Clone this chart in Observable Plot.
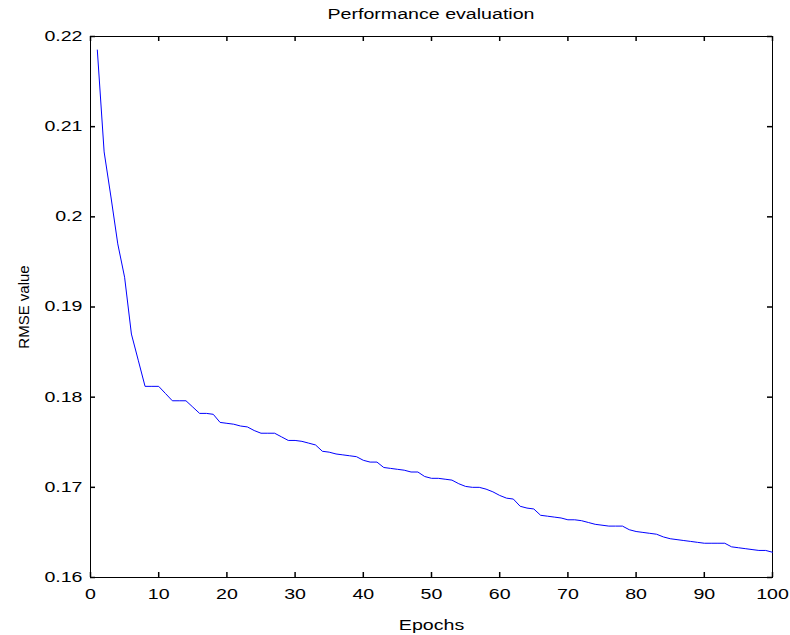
<!DOCTYPE html>
<html><head><meta charset="utf-8">
<script src="https://cdn.jsdelivr.net/npm/d3@7"></script>
<script src="https://cdn.jsdelivr.net/npm/@observablehq/plot@0.6"></script>
<style>
body{margin:0;background:#fff;font-family:"Liberation Sans",Arial,sans-serif;}
#title{height:28px;position:relative;width:790px;}
#title span{position:absolute;left:431px;top:6px;transform:translateX(-50%) scaleX(1.4);font-size:14px;white-space:nowrap;color:#000;}
</style></head><body>
<div id="title"><span>Performance evaluation</span></div>
<div id="chart"></div>
<script>
const epochs = [1,2,3,4,5,6,7,8,9,10,11,12,13,14,15,16,17,18,19,20,21,22,23,24,25,26,27,28,29,30,31,32,33,34,35,36,37,38,39,40,41,42,43,44,45,46,47,48,49,50,51,52,53,54,55,56,57,58,59,60,61,62,63,64,65,66,67,68,69,70,71,72,73,74,75,76,77,78,79,80,81,82,83,84,85,86,87,88,89,90,91,92,93,94,95,96,97,98,99,100];
const rmse = [0.2185,0.2072,0.2022,0.1970,0.1933,0.1870,0.1841,0.1812,0.1812,0.1812,
0.1804,0.1796,0.1796,0.1796,0.1789,0.1782,0.1782,0.1781,0.1772,0.1771,
0.1770,0.1768,0.1767,0.1763,0.1760,0.1760,0.1760,0.1756,0.1752,0.1752,
0.1751,0.1749,0.1747,0.1740,0.1739,0.1737,0.1736,0.1735,0.1734,0.1730,
0.1728,0.1728,0.1722,0.1721,0.1720,0.1719,0.1717,0.1717,0.1712,0.1710,
0.1710,0.1709,0.1708,0.1704,0.1701,0.1700,0.1700,0.1698,0.1695,0.1691,
0.1688,0.1687,0.1679,0.1677,0.1676,0.1669,0.1668,0.1667,0.1666,0.1664,
0.1664,0.1663,0.1661,0.1659,0.1658,0.1657,0.1657,0.1657,0.1653,0.1651,
0.1650,0.1649,0.1648,0.1645,0.1643,0.1642,0.1641,0.1640,0.1639,0.1638,
0.1638,0.1638,0.1638,0.1634,0.1633,0.1632,0.1631,0.1630,0.1630,0.1628];
const xTicks = [0,10,20,30,40,50,60,70,80,90,100];
const yTicks = [0.16,0.17,0.18,0.19,0.20,0.21,0.22];
const yTickLabels = ["0.16","0.17","0.18","0.19","0.2","0.21","0.22"];
const xLabel = "Epochs";
const yLabel = "RMSE value";

const data = epochs.map((e, i) => ({epoch: e, rmse: rmse[i]}));
const yFmt = d => yTickLabels[yTicks.findIndex(t => Math.abs(t - d) < 1e-9)];

const W = 790, H = 607, ML = 90, MR = 18, MT = 8, MB = 58, TICK = 5;
const innerW = W - ML - MR, innerH = H - MT - MB;

const plot = Plot.plot({
  width: W, height: H,
  marginLeft: ML, marginRight: MR, marginTop: MT, marginBottom: MB,
  style: {fontFamily: "'Liberation Sans', Arial, sans-serif", fontSize: "14px", color: "black", background: "white"},
  x: {domain: [0, 100]},
  y: {domain: [0.16, 0.22]},
  marks: [
    Plot.frame({stroke: "black", strokeWidth: 1}),
    Plot.axisX(xTicks, {anchor: "bottom", tickSize: 0, tickPadding: 12, label: xLabel, labelAnchor: "center", labelArrow: "none", labelOffset: 52}),
    Plot.axisY(yTicks, {anchor: "left", tickSize: 0, tickPadding: 8, tickFormat: yFmt, label: yLabel, labelAnchor: "center", labelArrow: "none", labelOffset: 72}),
    // inward ticks on all four sides (MATLAB style box)
    Plot.tickX(xTicks, {x: d => d, insetTop: innerH - TICK, stroke: "black", strokeWidth: 1.5}),
    Plot.tickX(xTicks, {x: d => d, insetBottom: innerH - TICK, stroke: "black", strokeWidth: 1.5}),
    Plot.tickY(yTicks, {y: d => d, insetRight: innerW - TICK, stroke: "black", strokeWidth: 1.5}),
    Plot.tickY(yTicks, {y: d => d, insetLeft: innerW - TICK, stroke: "black", strokeWidth: 1.5}),
    Plot.line(data, {x: "epoch", y: "rmse", stroke: "#0000ff", strokeWidth: 1})
  ]
});
document.getElementById("chart").appendChild(plot);
// y label slightly larger, as in the reference
plot.querySelectorAll('g[aria-label="y-axis label"] text').forEach(t => t.style.fontSize = "15px");
// widen glyphs horizontally like the reference rendering
plot.querySelectorAll("text").forEach(t => {
  const tr = (t.getAttribute("transform") || "") + ((t.parentNode.getAttribute && t.parentNode.getAttribute("transform")) || "");
  if (tr.includes("rotate")) return;
  const len = t.getComputedTextLength();
  if (len > 0) {
    t.setAttribute("textLength", (len * 1.4).toFixed(1));
    t.setAttribute("lengthAdjust", "spacingAndGlyphs");
  }
});
</script>
</body></html>
